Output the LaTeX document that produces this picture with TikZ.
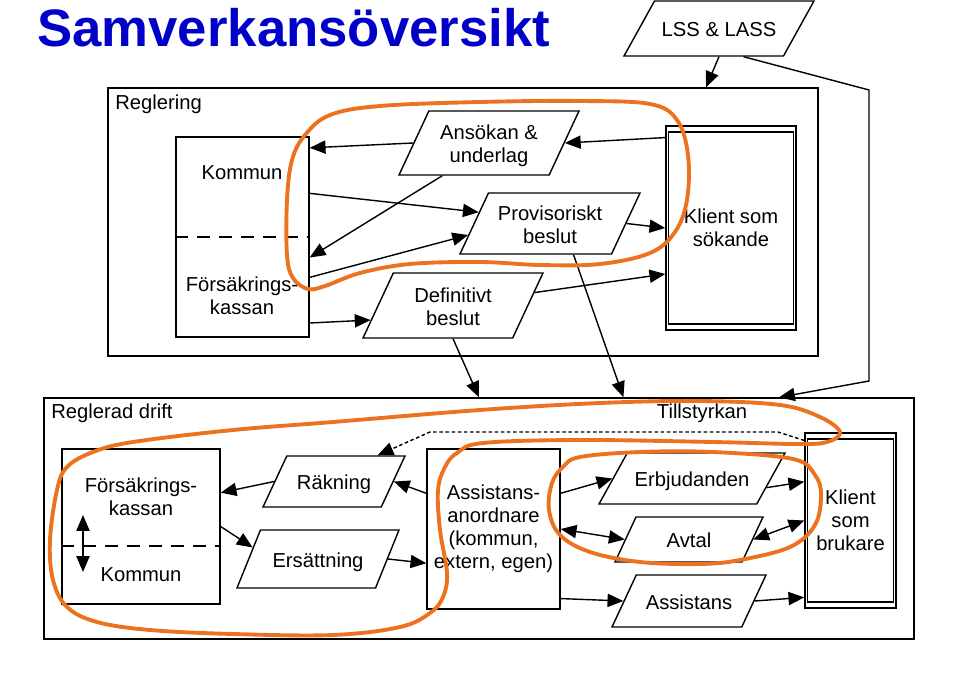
\documentclass[tikz,border=0pt]{standalone}
\usepackage{fontspec}
\setmainfont{Liberation Sans}
\usepackage{tikz}
\usetikzlibrary{shapes.geometric,arrows.meta,calc}
\definecolor{titleblue}{RGB}{0,0,200}
\definecolor{markorange}{RGB}{236,114,32}
% fixed-height text block, so the slant of a parallelogram follows its height
\newcommand{\ptext}[2]{\vbox to #1{\vskip 0pt plus 1fil\vskip 4pt\hbox{\begin{tabular}{@{}c@{}}#2\end{tabular}}\vskip 0pt plus 1fil}}

\tikzset{
  box/.style={draw, line width=0.8pt, inner sep=0pt, align=center},
  para/.style={trapezium, trapezium left angle=65, trapezium right angle=115,
    trapezium stretches body, draw, line width=0.8pt, inner sep=0pt},
  lbl/.style={inner sep=0pt, align=center},
  flow/.style={->, line width=0.8pt},
  split/.style={line width=0.8pt, dash pattern=on 7.5pt off 5pt},
  ring/.style={markorange, line width=2.2pt, line join=round},
}

\begin{document}
\begin{tikzpicture}[x=0.02cm, y=-0.02cm, >={Triangle[length=9pt,width=7.5pt]},
  font=\fontsize{11.5}{13}\selectfont]
  \useasboundingbox (0,0) rectangle (960,699);

  % Title
  \node[anchor=base west, inner sep=0pt, text=titleblue,
    font=\fontsize{30}{36}\selectfont\bfseries] (title) at (37,47) {Samverkansöversikt};

  % Law on top
  \node[para, trapezium left angle=61, trapezium right angle=119,
    minimum width=3.80cm] (lss) at (719,28.5) {\ptext{1.10cm}{LSS \& LASS}};

  % Reglering panel
  \node[box, minimum width=14.2cm, minimum height=5.36cm] (reg) at (463,222) {};
  \node[lbl, anchor=west] (regtitle) at (115,104) {Reglering};
  \node[box, minimum width=2.66cm, minimum height=4.0cm] (regkf) at (242.5,237) {};
  \draw[split] (regkf.west) -- (regkf.east);
  \node[lbl] (regkommun) at (242,173) {Kommun};
  \node[lbl] (regfk) at (242,296) {Försäkrings-\\kassan};

  \node[para, minimum width=3.60cm] (ans) at (489,143) {\ptext{1.28cm}{Ansökan \&\\underlag}};
  \node[para, minimum width=3.60cm] (prov) at (550,223.5) {\ptext{1.22cm}{Provisoriskt\\beslut}};
  \node[para, minimum width=3.60cm] (def) at (453,305.5) {\ptext{1.30cm}{Definitivt\\beslut}};

  \node[box, minimum width=2.6cm, minimum height=4.08cm] (ksok) at (731,228) {Klient som\\sökande};
  \draw[line width=0.8pt] ([shift={(3,6.5)}]ksok.north west) rectangle ([shift={(-3,-6.5)}]ksok.south east);

  % Reglerad drift panel
  \node[box, minimum width=17.4cm, minimum height=4.82cm] (drift) at (479,518.5) {};
  \node[lbl, anchor=west] (drifttitle) at (51,413) {Reglerad drift};
  \node[lbl] (tillst) at (702,413) {Tillstyrkan};

  \node[box, minimum width=3.16cm, minimum height=3.10cm] (fkb) at (141,526.5) {};
  \draw[split] ([yshift=-0.39cm]fkb.west) -- ([yshift=-0.39cm]fkb.east);
  \node[lbl] (fkbfk) at (141,497) {Försäkrings-\\kassan};
  \node[lbl] (fkbkom) at (141,575) {Kommun};
  \coordinate (swaptop) at (83,515);
  \coordinate (swapbot) at (83,572);
  \draw[<->, line width=0.8pt] (swaptop) -- (swapbot);

  \node[para, minimum width=2.84cm] (rak) at (334,481.5) {\ptext{1.02cm}{Räkning}};
  \node[para, trapezium left angle=68, trapezium right angle=112,
    minimum width=3.24cm] (ers) at (318,559) {\ptext{1.16cm}{Ersättning}};
  \node[box, minimum width=2.66cm, minimum height=3.2cm] (asa) at (493.5,529)
    {Assistans-\\anordnare\\(kommun,\\extern, egen)};
  \node[para, trapezium left angle=61, trapezium right angle=119,
    minimum width=3.72cm] (erb) at (692,478.5) {\ptext{1.02cm}{Erbjudanden}};
  \node[para, minimum width=2.96cm] (avt) at (689,539.5) {\ptext{0.90cm}{Avtal}};
  \node[para, minimum width=3.08cm] (ass) at (689,601) {\ptext{1.04cm}{Assistans}};

  \node[box, minimum width=1.82cm, minimum height=3.5cm] (kbr) at (850.5,520.5) {Klient\\som\\brukare};
  \draw[line width=0.8pt] ([shift={(3,6.5)}]kbr.north west) rectangle ([shift={(-3,-6.5)}]kbr.south east);

  % Flows in Reglering
  \draw[flow] (ksok.126) -- (ans.0);
  \draw[flow] (ans.180) -- (regkf.53);
  \draw[flow] (ans.215) -- (regkf.-17.5);
  \draw[flow] (regkf.33.5) -- (prov.171);
  \draw[flow] (regkf.-31.7) -- (prov.188);
  \draw[flow] (regkf.-52) -- (def.190);
  \draw[flow] (prov.0) -- (ksok.west);
  \draw[flow] (def.9) -- (ksok.215);
  \draw[flow] (def.270) -- (drift.north);
  \draw[flow] (prov.-53) -- (drift.40);

  % Law to both panels
  \coordinate (lawbend1) at (869,90);
  \coordinate (lawbend2) at (869,381);
  \draw[flow] (lss.270) -- (reg.29.4);
  \draw[flow] (lss.-49) -- (lawbend1) -- (lawbend2) -- (drift.22.5);

  % Flows in Reglerad drift
  \draw[flow] (rak.180) -- (fkb.23);
  \draw[flow] (asa.152) -- (rak.0);
  \draw[flow] (fkb.east) -- (ers.170);
  \draw[flow] (ers.0) -- (asa.207);
  \draw[flow] (asa.28) -- (erb.180);
  \draw[flow] (erb.-7) -- (kbr.140.5);
  \draw[flow, <->] (asa.east) -- (avt.180);
  \draw[flow, <->] (avt.0) -- (kbr.west);
  \draw[flow] (asa.-46) -- (ass.180);
  \draw[flow] (ass.0) -- (kbr.239);

  % Tillstyrkan (dotted)
  \coordinate (dotbend1) at (778,432);
  \coordinate (dotbend2) at (430,432);
  \draw[flow, dash pattern=on 2pt off 1.5pt] (kbr.120) -- (dotbend1) -- (dotbend2) -- (rak.31);

  % Orange marks
  \draw[ring] plot[smooth cycle, tension=0.6] coordinates {(308,289) (293,278) (287,255) (287,200) (292,160)
    (305,135) (330,115) (380,106) (480,102) (580,101) (650,104) (677,120) (688,155) (687,200)
    (675,232) (650,253) (600,264) (540,265) (480,262) (410,264) (360,273) (325,286)};
  \draw[ring] plot[smooth cycle, tension=0.6] coordinates {(67,467) (93,452) (133,442) (233,430) (333,422)
    (480,410) (600,403) (700,401) (780,405) (820,417) (840,432) (827,442) (797,444) (713,442)
    (580,440) (483,443) (457,453) (445,467) (438,490) (440,530) (447,573) (443,597) (430,613)
    (400,627) (333,635) (233,634) (150,630) (97,622) (67,607) (53,580) (50,540) (57,490)};
  \draw[ring] plot[smooth cycle, tension=0.6] coordinates {(580,457) (640,452) (713,452) (793,459)
    (815,475) (821,495) (815,525) (790,547) (740,560) (700,564) (640,562) (590,552) (560,535)
    (549,510) (552,483) (563,467)};
\end{tikzpicture}
\end{document}
